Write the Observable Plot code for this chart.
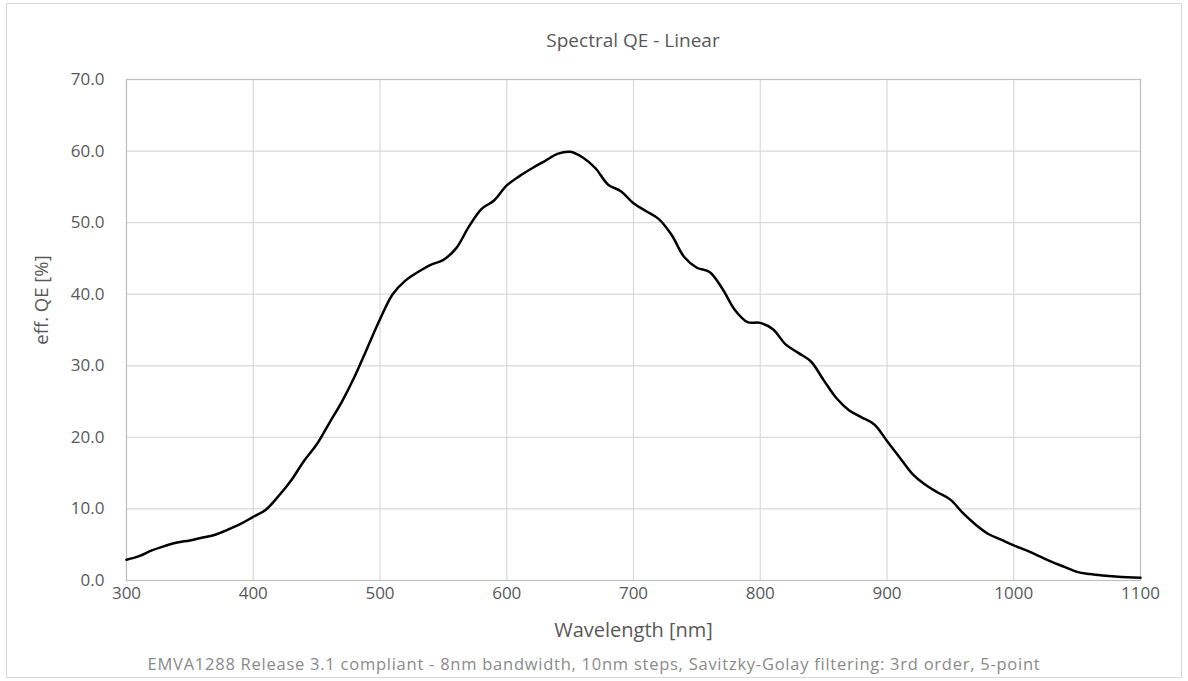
<!DOCTYPE html>
<html>
<head>
<meta charset="utf-8">
<script src="https://cdn.jsdelivr.net/npm/d3@7"></script>
<script src="https://cdn.jsdelivr.net/npm/@observablehq/plot@0.6"></script>
<style>
  html, body { margin: 0; padding: 0; background: #fff; }
  #wrap { position: relative; width: 1188px; height: 681px; overflow: hidden; font-family: "Open Sans", sans-serif; }
  #border { position: absolute; left: 6px; top: 3px; width: 1174px; height: 673px; border: 1px solid #d9d9d9; }
  #title { position: absolute; left: 126px; width: 1014px; top: 27px; line-height: 26px; text-align: center; font-size: 19px; color: #595959; }
  #chart { position: absolute; left: 0; top: 60px; }
  #ylabel { position: absolute; left: 40px; top: 300px; transform: translate(-50%, -50%) rotate(-90deg); white-space: nowrap; font-size: 18.5px; color: #595959; }
  #caption { position: absolute; left: 0; width: 1188px; top: 653px; line-height: 22px; text-align: center; font-size: 16.5px; letter-spacing: 0.75px; color: #8a8a8a; font-family: "Open Sans", sans-serif; }
</style>
</head>
<body>
<div id="wrap">
  <div id="border"></div>
  <div id="title">Spectral QE - Linear</div>
  <div id="chart"></div>
  <div id="ylabel">eff. QE [%]</div>
  <div id="caption">EMVA1288 Release 3.1 compliant - 8nm bandwidth, 10nm steps, Savitzky-Golay filtering: 3rd order, 5-point</div>
</div>
<script>
const wavelength = [300,310,320,330,340,350,360,370,380,390,400,410,420,430,440,450,460,470,480,490,
  500,510,520,530,540,550,560,570,580,590,600,610,620,630,640,650,660,670,680,690,
  700,710,720,730,740,750,760,770,780,790,800,810,820,830,840,850,860,870,880,890,
  900,910,920,930,940,950,960,970,980,990,1000,1010,1020,1030,1040,1050,1060,1070,1080,1090,1100];
const qe = [2.9,3.4,4.2,4.8,5.3,5.6,6.0,6.4,7.1,7.9,8.9,9.9,11.8,14.0,16.7,19.0,22.0,25.0,28.5,32.5,
  36.5,40.0,41.9,43.1,44.1,44.8,46.4,49.4,51.9,53.1,55.2,56.5,57.6,58.6,59.6,59.9,59.1,57.6,55.3,54.4,
  52.7,51.6,50.5,48.3,45.2,43.7,43.1,40.8,37.8,36.1,36.0,35.1,33.0,31.8,30.6,28.0,25.5,23.8,22.8,21.8,
  19.5,17.2,14.9,13.4,12.3,11.3,9.4,7.8,6.5,5.7,4.9,4.2,3.4,2.6,1.9,1.2,0.9,0.7,0.55,0.45,0.4];
const xTicks = [300,400,500,600,700,800,900,1000,1100];
const yTicks = [0,10,20,30,40,50,60,70];
const xLabel = "Wavelength [nm]";

const data = wavelength.map((w, i) => ({w, q: qe[i]}));

const chart = Plot.plot({
  width: 1188,
  height: 590,
  marginLeft: 126,
  marginRight: 48,
  marginTop: 19,
  marginBottom: 70,
  style: {fontFamily: "Open Sans, sans-serif", fontSize: "17px", color: "#595959", background: "transparent"},
  x: {domain: [300, 1100]},
  y: {domain: [0, 70]},
  marks: [
    Plot.gridX(xTicks, {stroke: "#d9d9d9", strokeOpacity: 1, strokeWidth: 1.2}),
    Plot.gridY(yTicks, {stroke: "#d9d9d9", strokeOpacity: 1, strokeWidth: 1.2}),
    Plot.frame({stroke: "#bfbfbf", strokeWidth: 1.2}),
    Plot.axisX({ticks: xTicks, tickSize: 0, tickPadding: 6, label: null, tickFormat: d => String(d)}),
    Plot.axisY({ticks: yTicks, tickSize: 0, tickPadding: 22, label: null, tickFormat: d => d.toFixed(1)}),
    Plot.line(data, {x: "w", y: "q", stroke: "#000", strokeWidth: 2.5, curve: "catmull-rom"}),
    Plot.text([xLabel], {frameAnchor: "bottom", dy: 56, text: d => d, fontSize: 20, fill: "#595959"})
  ]
});
document.getElementById("chart").appendChild(chart);
</script>
</body>
</html>
